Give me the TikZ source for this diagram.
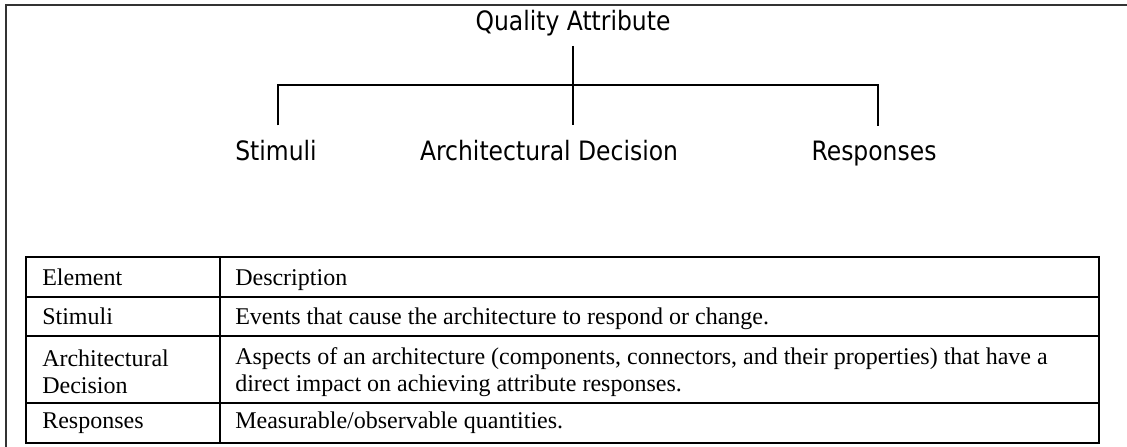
\documentclass[tikz,border=0pt]{standalone}
\usepackage{fontspec}
\setmainfont{Liberation Serif}
\newfontfamily\treefont[FakeStretch=0.88]{DejaVu Sans}
\usetikzlibrary{positioning,calc}

\tikzset{
  treetext/.style={font=\treefont\fontsize{20}{24}\selectfont, inner sep=0pt, anchor=base},
  cell/.style={font=\fontsize{18}{20.5}\selectfont, inner sep=0pt, align=left},
  branch/.style={line width=1.1pt},
  tablerule/.style={line width=1.6pt}
}

\begin{document}
\begin{tikzpicture}[x=0.75pt,y=-0.75pt]
    \useasboundingbox (0,0) rectangle (1127,446);
    % Frame
    \draw[line width=1.5pt, black!80] (6,452) -- (6,5) -- (1133,5);

    % Tree
    \node[treetext] (qa) at (573,30) {Quality Attribute};
    \node[treetext] (stim) at (276,160) {Stimuli};
    \node[treetext] (arch) at (549,160) {Architectural Decision};
    \node[treetext] (resp) at (874,160) {Responses};
    \coordinate (hub) at (573,85);

    \draw[branch] ([yshift=-7.5pt]qa.south) -- (hub) -- ([yshift=10.5pt]qa.south |- arch.north);
    \draw[branch] ([xshift=1.5pt,yshift=10.5pt]stim.north) |- (hub) -| ([xshift=3pt,yshift=10.5pt]resp.north);

    % Table
    \draw[tablerule] (26,257) rectangle (1099,443);
    \foreach \y in {297,336,403}
        \draw[tablerule] (26,\y) -- (1099,\y);
    \draw[tablerule] (220,257) -- (220,443);

    \node[cell, anchor=base west] (hdel) at (42,285) {Element};
    \node[cell, anchor=base west] (hddesc) at (235,285) {Description};
    \node[cell, anchor=base west] (stimel) at (42,324) {Stimuli};
    \node[cell, anchor=base west] (stimdesc) at (235,324) {Events that cause the architecture to respond or change.};
    \node[cell, anchor=west] (archel) at (42,372) {Architectural\\Decision};
    \node[cell, anchor=west] (archdesc) at (235,372) {Aspects of an architecture (components, connectors, and their properties) that have a\\direct impact on achieving attribute responses.};
    \node[cell, anchor=base west] (respel) at (42,428) {Responses};
    \node[cell, anchor=base west] (respdesc) at (235,428) {Measurable/observable quantities.};
\end{tikzpicture}
\end{document}
